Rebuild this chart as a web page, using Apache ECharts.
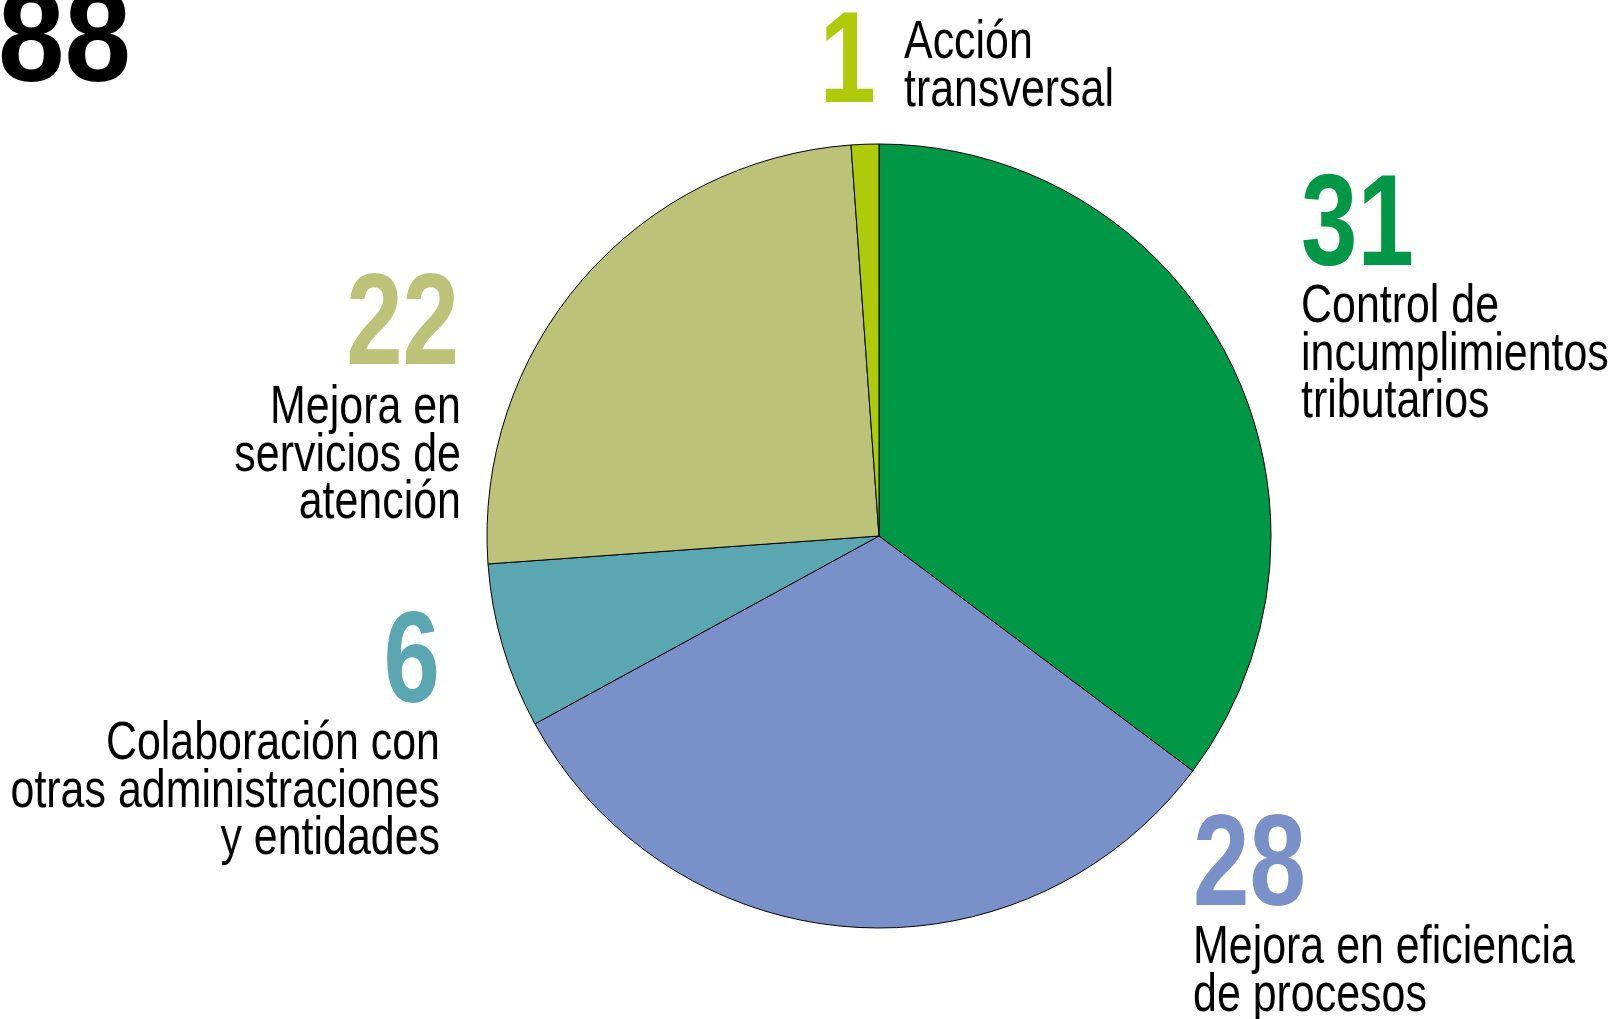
<!DOCTYPE html>
<html>
<head>
<meta charset="utf-8">
<script src="https://cdn.jsdelivr.net/npm/echarts@6/dist/echarts.min.js"></script>
<style>
  html, body { margin: 0; padding: 0; background: #fff; }
  #chart { width: 1616px; height: 1019px; }
</style>
</head>
<body>
<div id="chart"></div>
<script>
// categories and values, clockwise from 12 o'clock
const categories = [
  'Control de\nincumplimientos\ntributarios',
  'Mejora en eficiencia\nde procesos',
  'Colaboración con\notras administraciones\ny entidades',
  'Mejora en\nservicios de\natención',
  'Acción\ntransversal'
];
const values = [31, 28, 6, 22, 1];
const colors = ['#009846', '#7990c8', '#5aa7b2', '#bcc278', '#afca0b'];

const FONT = "'Liberation Sans', Arial, sans-serif";

// where each label block sits: number anchor + text anchor (top of block)
const labelPos = [
  { numX: 1301, numY: 164, numAlign: 'left', txtX: 1301, txtY: 284, align: 'left' },
  { numX: 1193, numY: 804, numAlign: 'left', txtX: 1193, txtY: 925, align: 'left' },
  { numX: 440, numY: 601, numAlign: 'right', txtX: 440, txtY: 721, align: 'right' },
  { numX: 459, numY: 263, numAlign: 'right', txtX: 461, txtY: 385, align: 'right' },
  { numX: 876, numY: 1, numAlign: 'right', txtX: 904, txtY: 20, align: 'left' }
];

const total = values.reduce((a, b) => a + b, 0);

const graphics = [];
graphics.push({
  type: 'text', x: -2, y: -20, scaleX: 0.92,
  style: { text: String(total), fill: '#000', font: 'bold 130px ' + FONT, verticalAlign: 'top' }
});
values.forEach((v, i) => {
  const p = labelPos[i];
  graphics.push({
    type: 'text', x: p.numX, y: p.numY, scaleX: 0.78,
    style: {
      text: String(v), fill: colors[i], font: 'bold 130px ' + FONT,
      align: p.numAlign, verticalAlign: 'top'
    }
  });
  graphics.push({
    type: 'text', x: p.txtX, y: p.txtY, scaleX: 0.81,
    style: {
      text: categories[i], fill: '#000', font: '53px ' + FONT,
      lineHeight: 47.5, align: p.align, verticalAlign: 'top'
    }
  });
});

const chart = echarts.init(document.getElementById('chart'));
chart.setOption({
  animation: false,
  backgroundColor: '#fff',
  color: colors,
  graphic: graphics,
  series: [{
    type: 'pie',
    center: [879, 536],
    radius: 392,
    startAngle: 90,
    clockwise: true,
    label: { show: false },
    labelLine: { show: false },
    emphasis: { disabled: true },
    itemStyle: { borderColor: '#000', borderWidth: 1 },
    data: values.map((v, i) => ({ name: categories[i], value: v }))
  }]
});
</script>
</body>
</html>
